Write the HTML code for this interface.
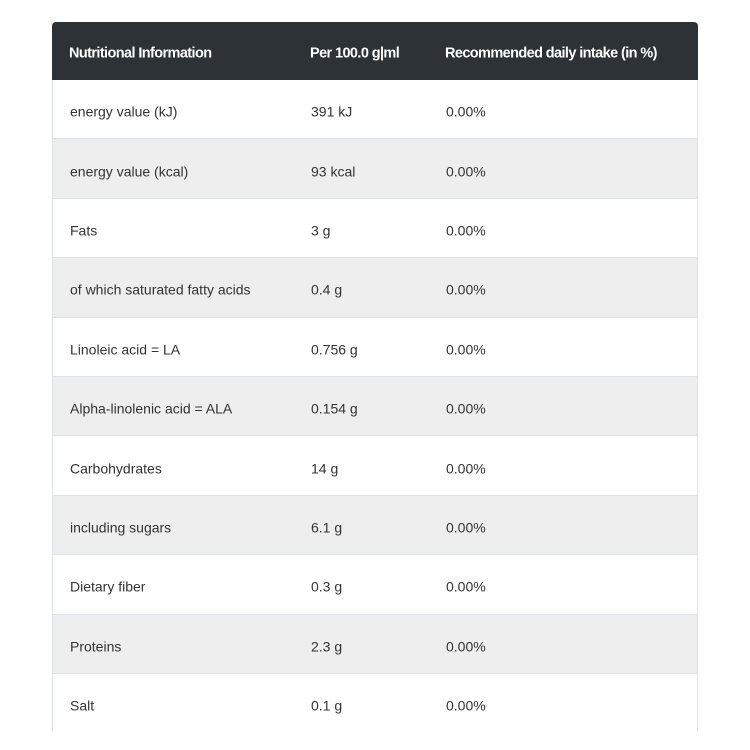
<!DOCTYPE html>
<html><head><style>
body{margin:0;width:750px;height:750px;background:#fff;overflow:hidden;font-family:"Liberation Sans",sans-serif;}
#clip{position:absolute;left:52px;top:22px;width:646px;height:709px;overflow:hidden;border-radius:4px 4px 0 0;}
.hd{position:absolute;left:0;top:0;width:646px;height:58px;background:#2c3236;color:#fff;font-weight:bold;font-size:14.5px;letter-spacing:-0.6px;}
.r{position:absolute;left:0;width:644px;height:58.4px;border:1px solid #dde3e8;border-top:none;color:#333;font-size:14px;}
.r.g{background:#eeeeee;}
.c{position:absolute;top:50%;transform:translateY(calc(-50% + 2.5px));white-space:nowrap;}
.a{left:17px}.b{left:258px}.d{left:393px}
</style></head><body>
<div id="clip">
<div class="hd"><span class="c a">Nutritional Information</span><span class="c b">Per 100.0 g|ml</span><span class="c d">Recommended daily intake (in %)</span></div>
<div class="r" style="top:58px"><span class="c a">energy value (kJ)</span><span class="c b">391 kJ</span><span class="c d">0.00%</span></div>
<div class="r g" style="top:117.4px"><span class="c a">energy value (kcal)</span><span class="c b">93 kcal</span><span class="c d">0.00%</span></div>
<div class="r" style="top:176.8px"><span class="c a">Fats</span><span class="c b">3 g</span><span class="c d">0.00%</span></div>
<div class="r g" style="top:236.2px"><span class="c a">of which saturated fatty acids</span><span class="c b">0.4 g</span><span class="c d">0.00%</span></div>
<div class="r" style="top:295.6px"><span class="c a">Linoleic acid = LA</span><span class="c b">0.756 g</span><span class="c d">0.00%</span></div>
<div class="r g" style="top:355px"><span class="c a">Alpha-linolenic acid = ALA</span><span class="c b">0.154 g</span><span class="c d">0.00%</span></div>
<div class="r" style="top:414.4px"><span class="c a">Carbohydrates</span><span class="c b">14 g</span><span class="c d">0.00%</span></div>
<div class="r g" style="top:473.8px"><span class="c a">including sugars</span><span class="c b">6.1 g</span><span class="c d">0.00%</span></div>
<div class="r" style="top:533.2px"><span class="c a">Dietary fiber</span><span class="c b">0.3 g</span><span class="c d">0.00%</span></div>
<div class="r g" style="top:592.6px"><span class="c a">Proteins</span><span class="c b">2.3 g</span><span class="c d">0.00%</span></div>
<div class="r" style="top:652px"><span class="c a">Salt</span><span class="c b">0.1 g</span><span class="c d">0.00%</span></div>
</div>
</body></html>
